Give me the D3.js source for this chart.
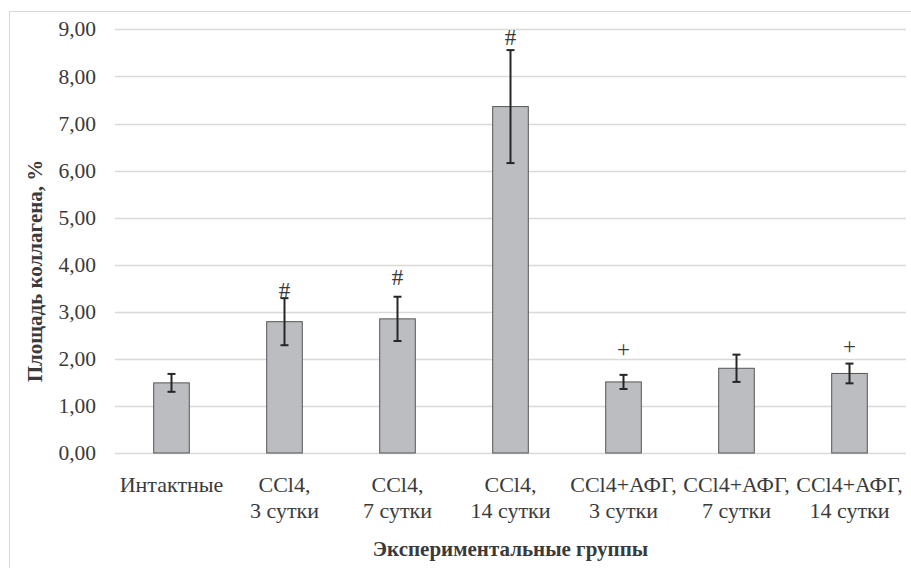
<!DOCTYPE html>
<html><head><meta charset="utf-8"><script src="https://cdn.jsdelivr.net/npm/d3@7"></script></head>
<body style="margin:0">
<script>
// Collagen area by experimental group (mean ± error)
const groups = [
  ["Интактные"],
  ["CCl4,", "3 сутки"],
  ["CCl4,", "7 сутки"],
  ["CCl4,", "14 сутки"],
  ["CCl4+АФГ,", "3 сутки"],
  ["CCl4+АФГ,", "7 сутки"],
  ["CCl4+АФГ,", "14 сутки"]
];
const means  = [1.49, 2.79, 2.85, 7.36, 1.51, 1.80, 1.69];
const errors = [0.19, 0.50, 0.47, 1.20, 0.15, 0.29, 0.21];
// Significance marks and the value level at which each is written
const marks      = ["", "#", "#", "#", "+", "", "+"];
const markLevels = [0, 3.46, 3.74, 8.84, 2.21, 0, 2.27];
const yTicks = [0, 1, 2, 3, 4, 5, 6, 7, 8, 9];

const FONT = "Liberation Serif";
const INK = "#3a3a3a";
const W = 911, H = 568;

const svg = d3.select("body").append("svg")
  .attr("id", "s").attr("width", W).attr("height", H)
  .style("display", "block");

const plot = { left: 115, right: 906, top: 29.4, bottom: 453 };

// outer chart frame
svg.append("rect")
  .attr("x", 9.5).attr("y", 11.5)
  .attr("width", W + 10).attr("height", H + 10)
  .attr("fill", "#fff").attr("stroke", "#d9d9d9").attr("stroke-width", 1);

const idx = d3.range(groups.length);
const x = d3.scaleBand().domain(idx).range([plot.left, plot.right]).paddingInner(0.685).paddingOuter(0.3425);
const y = d3.scaleLinear().domain([0, 9]).range([plot.bottom, plot.top]);
const fmt = v => d3.format(".2f")(v).replace(".", ",");

// horizontal gridlines
svg.append("g")
  .selectAll("line").data(yTicks).join("line")
  .attr("x1", plot.left).attr("x2", plot.right)
  .attr("y1", d => Math.round(y(d)) + 0.5).attr("y2", d => Math.round(y(d)) + 0.5)
  .attr("stroke", "#d9d9d9").attr("stroke-width", 1.5);

// y axis labels, drawn from the scale's ticks
svg.selectAll(".ytick").data(yTicks).join("text")
  .attr("class", "ytick")
  .attr("x", plot.left - 19).attr("y", d => y(d)).attr("dy", "0.33em")
  .attr("text-anchor", "end")
  .style("font-family", FONT).attr("font-size", 21.5)
  .text(fmt);

// bars
const bw = x.bandwidth();
svg.append("g").selectAll("rect").data(idx).join("rect")
  .attr("x", i => x(i)).attr("width", bw)
  .attr("y", i => y(means[i])).attr("height", i => y(0) - y(means[i]))
  .attr("fill", "#bcbdc1").attr("stroke", "#555").attr("stroke-width", 1);

// error bars
const eb = svg.append("g").attr("stroke", "#262626").attr("stroke-width", 2);
idx.forEach(i => {
  const cx = x(i) + bw / 2;
  const hi = y(means[i] + errors[i]), lo = y(means[i] - errors[i]);
  eb.append("line").attr("x1", cx).attr("x2", cx).attr("y1", hi).attr("y2", lo);
  eb.append("line").attr("x1", cx - 4).attr("x2", cx + 4).attr("y1", hi).attr("y2", hi);
  eb.append("line").attr("x1", cx - 4).attr("x2", cx + 4).attr("y1", lo).attr("y2", lo);
});

// significance marks
svg.selectAll(".mark").data(idx.filter(i => marks[i])).join("text")
  .attr("class", "mark")
  .attr("x", i => x(i) + bw / 2)
  .attr("y", i => y(markLevels[i]))
  .attr("dy", "0.35em")
  .attr("text-anchor", "middle")
  .style("font-family", FONT).attr("font-size", 23)
  .text(i => marks[i]);

// category labels
idx.forEach(i => {
  const t = svg.append("text")
    .attr("x", x(i) + bw / 2).attr("y", 492)
    .attr("text-anchor", "middle")
    .style("font-family", FONT).attr("font-size", 22);
  groups[i].forEach((line, k) => {
    t.append("tspan").attr("x", x(i) + bw / 2).attr("dy", k === 0 ? 0 : 26).text(line);
  });
});

// axis titles
svg.append("text")
  .attr("x", (plot.left + plot.right) / 2).attr("y", 556)
  .attr("text-anchor", "middle")
  .style("font-family", FONT).attr("font-size", 21).attr("font-weight", "bold")
  .text("Экспериментальные группы");

svg.append("text")
  .attr("transform", "translate(42,271) rotate(-90)")
  .attr("text-anchor", "middle")
  .style("font-family", FONT).attr("font-size", 21).attr("font-weight", "bold")
  .text("Площадь коллагена, %");

svg.selectAll("text").attr("fill", INK);
</script>
</body></html>
